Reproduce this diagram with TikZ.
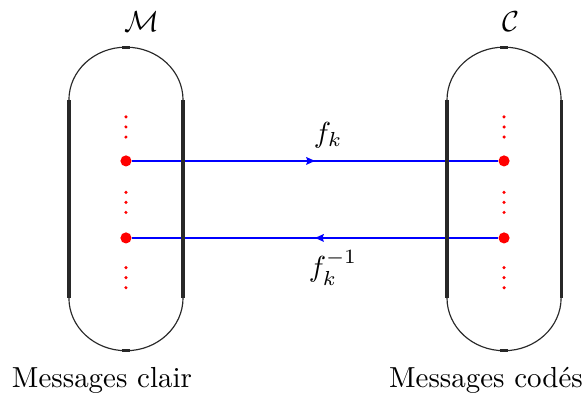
\documentclass[tikz,border=0pt]{standalone}
\usetikzlibrary{arrows.meta, decorations.markings, calc}
\definecolor{dotRed}{RGB}{255,0,0}
\definecolor{linkBlue}{RGB}{0,0,255}
\definecolor{outlineGray}{RGB}{40,40,40}
\def\colM{1.528}
\def\colC{6.114}
\def\halfW{0.692}
\def\radY{0.64}
\def\rowTop{3.603}
\def\rowBot{1.201}
\def\rowF{2.863}
\def\rowG{1.929}

\begin{document}
\begin{tikzpicture}[
    side/.style    ={line width=1.1pt, outlineGray},
    roundEnd/.style={line width=0.4pt, outlineGray},
    bigDot/.style  ={circle, fill=dotRed, draw=none, inner sep=0pt, minimum size=0.135cm},
    smallDot/.style={fill=dotRed},
    link/.style    ={line width=0.8pt, linkBlue, postaction={decorate},
                     decoration={markings, mark=at position 0.5 with {\arrow{Stealth[length=3pt, width=2.6pt, inset=0.4pt]}}}},
]
\useasboundingbox (0,0) rectangle (7.12,4.815);

% =====================================================
% Points in both sets
% =====================================================
\node[bigDot] (m1) at (\colM,\rowF) {};
\node[bigDot] (m2) at (\colM,\rowG) {};
\node[bigDot] (c1) at (\colC,\rowF) {};
\node[bigDot] (c2) at (\colC,\rowG) {};

% vertical dots between the points
\foreach \x in {\colM,\colC}
  \foreach \y in {3.275, 2.36, 1.447}
    \foreach \d in {-0.122, 0, 0.122}
      \fill[smallDot] (\x,\y+\d) circle (0.021);

% =====================================================
% Connecting arrows
% =====================================================
\draw[link] (m1) -- (c1);
\draw[link] (c2) -- (m2);

\node (fk)    at (3.979,3.178) {$f_k$};
\node (fkinv) at (4.039,1.565) {$f_k^{-1}$};

% =====================================================
% Set outlines
% =====================================================
\foreach \x in {\colM,\colC} {
  \draw[side] (\x-\halfW,\rowBot) -- (\x-\halfW,\rowTop);
  \draw[side] (\x+\halfW,\rowBot) -- (\x+\halfW,\rowTop);
  \draw[roundEnd] (\x-\halfW,\rowTop) arc[start angle=180, end angle=0, x radius=\halfW, y radius=\radY];
  \draw[roundEnd] (\x-\halfW,\rowBot) arc[start angle=180, end angle=360, x radius=\halfW, y radius=\radY];
  % small marks on top and bottom
  \draw[side] (\x-0.05,\rowTop+\radY) -- (\x+0.05,\rowTop+\radY);
  \draw[side] (\x-0.05,\rowBot-\radY) -- (\x+0.05,\rowBot-\radY);
}

% =====================================================
% Set names
% =====================================================
\node (setM) at (1.722,4.549) {$\mathcal{M}$};
\node (setC) at (6.198,4.549) {$\mathcal{C}$};
\node (clair) at (1.237,0.206) {Messages clair};
\node (codes) at (5.895,0.206) {Messages codés};

\end{tikzpicture}
\end{document}
